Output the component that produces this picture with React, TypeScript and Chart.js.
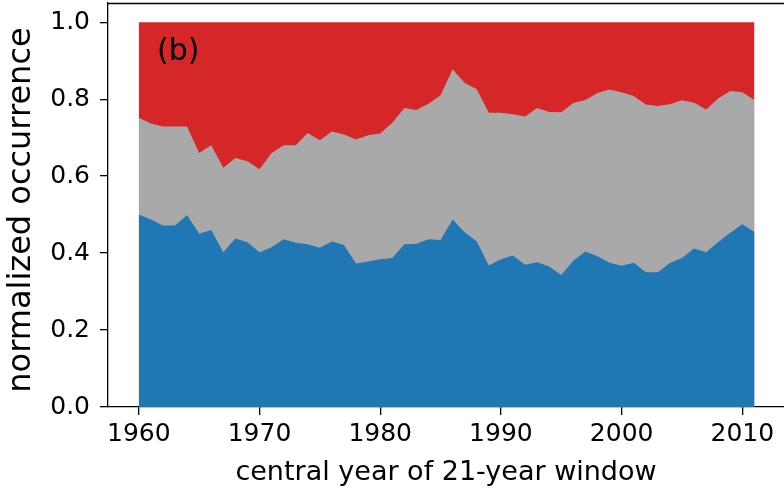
import React, { useEffect, useRef } from "react";
import { Chart, registerables } from "chart.js";

Chart.register(...registerables);

const years = [
  1960, 1961, 1962, 1963, 1964, 1965, 1966, 1967, 1968, 1969,
  1970, 1971, 1972, 1973, 1974, 1975, 1976, 1977, 1978, 1979,
  1980, 1981, 1982, 1983, 1984, 1985, 1986, 1987, 1988, 1989,
  1990, 1991, 1992, 1993, 1994, 1995, 1996, 1997, 1998, 1999,
  2000, 2001, 2002, 2003, 2004, 2005, 2006, 2007, 2008, 2009,
  2010, 2011,
];

const blueValues = [
  0.500, 0.487, 0.472, 0.472, 0.499, 0.450, 0.460, 0.402, 0.438, 0.428,
  0.402, 0.415, 0.436, 0.427, 0.423, 0.414, 0.430, 0.421, 0.373, 0.378,
  0.384, 0.387, 0.423, 0.424, 0.436, 0.434, 0.487, 0.454, 0.430, 0.368,
  0.384, 0.394, 0.370, 0.376, 0.365, 0.343, 0.381, 0.404, 0.392, 0.375,
  0.367, 0.375, 0.350, 0.350, 0.374, 0.387, 0.412, 0.402, 0.429, 0.453,
  0.475, 0.455,
];

const grayValues = [
  0.252, 0.250, 0.257, 0.257, 0.230, 0.210, 0.220, 0.220, 0.209, 0.211,
  0.216, 0.245, 0.244, 0.253, 0.289, 0.279, 0.286, 0.287, 0.322, 0.328,
  0.327, 0.352, 0.354, 0.348, 0.352, 0.376, 0.391, 0.388, 0.396, 0.397,
  0.381, 0.367, 0.385, 0.401, 0.402, 0.423, 0.409, 0.394, 0.424, 0.450,
  0.451, 0.433, 0.436, 0.432, 0.413, 0.410, 0.379, 0.371, 0.373, 0.368,
  0.343, 0.343,
];

const redValues = [
  0.248, 0.263, 0.271, 0.271, 0.271, 0.340, 0.320, 0.378, 0.353, 0.361,
  0.382, 0.340, 0.320, 0.320, 0.288, 0.307, 0.284, 0.292, 0.305, 0.294,
  0.289, 0.261, 0.223, 0.228, 0.212, 0.190, 0.122, 0.158, 0.174, 0.235,
  0.235, 0.239, 0.245, 0.223, 0.233, 0.234, 0.210, 0.202, 0.184, 0.175,
  0.182, 0.192, 0.214, 0.218, 0.213, 0.203, 0.209, 0.227, 0.198, 0.179,
  0.182, 0.202,
];

const xTicks = [1960, 1970, 1980, 1990, 2000, 2010];
const yTicks = [0.0, 0.2, 0.4, 0.6, 0.8, 1.0];

const FONT = "'DejaVu Sans', sans-serif";

const framePlugin = {
  id: "frame",
  afterDraw(chart: any) {
    const { ctx, chartArea } = chart;
    ctx.save();
    ctx.strokeStyle = "#000";
    ctx.lineWidth = 1.3;
    ctx.beginPath();
    ctx.moveTo(chartArea.left, chartArea.top + 0.5);
    ctx.lineTo(chartArea.right, chartArea.top + 0.5);
    ctx.stroke();
    ctx.fillStyle = "#000";
    ctx.font = `30px ${FONT}`;
    ctx.textBaseline = "alphabetic";
    ctx.textAlign = "left";
    ctx.fillText("(b)", 157, 60);
    // y-axis title
    ctx.save();
    ctx.translate(22, (chartArea.top + chartArea.bottom) / 2 + 5);
    ctx.rotate(-Math.PI / 2);
    ctx.font = `32px ${FONT}`;
    ctx.textAlign = "center";
    ctx.textBaseline = "middle";
    ctx.fillText("normalized occurrence", 0, 0);
    ctx.restore();
    ctx.restore();
  },
};

export default function App() {
  const ref = useRef<HTMLCanvasElement>(null);
  useEffect(() => {
    if (!ref.current) return;
    const mk = (vals: number[]) => vals.map((v, i) => ({ x: years[i], y: v }));
    const chart = new Chart(ref.current, {
      type: "line",
      data: {
        datasets: [
          { label: "blue", data: mk(blueValues), backgroundColor: "#1f77b4", borderWidth: 0, pointRadius: 0, fill: "origin", tension: 0 },
          { label: "gray", data: mk(grayValues), backgroundColor: "#a9a9a9", borderWidth: 0, pointRadius: 0, fill: "origin", tension: 0 },
          { label: "red", data: mk(redValues), backgroundColor: "#d62728", borderWidth: 0, pointRadius: 0, fill: "origin", tension: 0 },
        ],
      },
      options: {
        responsive: false,
        animation: false,
        events: [],
        layout: { padding: { top: 3, left: 0, right: 0, bottom: 0 } },
        plugins: { legend: { display: false }, tooltip: { enabled: false } },
        scales: {
          x: {
            type: "linear",
            min: 1957.45,
            max: 2013.45,
            border: { display: true, color: "#000", width: 1.3 },
            grid: { display: true, drawOnChartArea: false, drawTicks: true, tickLength: 8, color: "#000", lineWidth: 1.3 },
            ticks: { color: "#000", font: { family: FONT, size: 25 }, padding: 4, maxRotation: 0, autoSkip: false, callback: (v: any) => String(v) },
            title: { display: true, text: "central year of 21-year window", color: "#000", font: { family: FONT, size: 27 }, padding: { top: 0, bottom: -1 } },
            afterBuildTicks: (s: any) => { s.ticks = xTicks.map((v) => ({ value: v })); },
            afterFit: (s: any) => { s.height = 81; s.paddingLeft = 0; s.paddingRight = 0; },
          },
          y: {
            type: "linear",
            stacked: true,
            min: 0,
            max: 1.05,
            border: { display: true, color: "#000", width: 1.3 },
            grid: { display: true, drawOnChartArea: false, drawTicks: true, tickLength: 8, color: "#000", lineWidth: 1.3 },
            ticks: { color: "#000", font: { family: FONT, size: 25 }, padding: 10, autoSkip: false, callback: (v: any) => Number(v).toFixed(1) },
            title: { display: false, text: "normalized occurrence" },
            afterBuildTicks: (s: any) => { s.ticks = yTicks.map((v) => ({ value: v })); },
            afterFit: (s: any) => { s.width = 108; s.paddingTop = 0; s.paddingBottom = 0; },
          },
        },
      },
      plugins: [framePlugin],
    });
    return () => chart.destroy();
  }, []);
  return (
    <div style={{ position: "absolute", left: 0, top: 0, width: 784, height: 488, background: "#fff" }}>
      <canvas ref={ref} width={784} height={488} style={{ width: 784, height: 488 }} />
    </div>
  );
}
